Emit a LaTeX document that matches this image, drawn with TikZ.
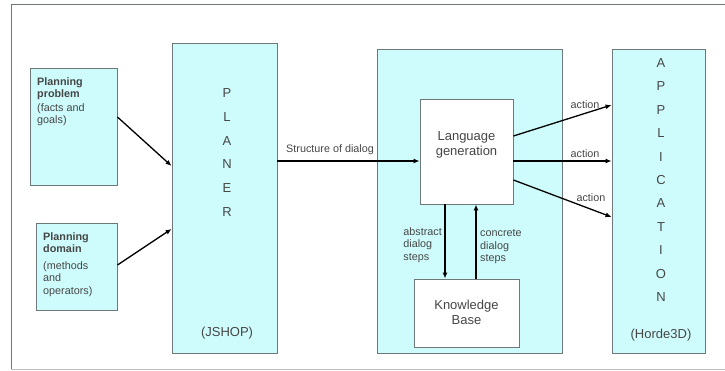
\documentclass[tikz,border=0pt]{standalone}
\usepackage{fontspec}
\setmainfont{Liberation Sans}
\usetikzlibrary{arrows.meta}
\definecolor{boxcyan}{RGB}{206,252,252}
\definecolor{boxline}{RGB}{110,120,120}
\definecolor{txtgray}{RGB}{70,70,70}

\begin{document}
\begin{tikzpicture}[x=1pt,y=-1pt,
		box/.style={draw=boxline,line width=0.9pt,fill=boxcyan,inner sep=0pt},
		wbox/.style={box,fill=white},
		arr/.style={-{Latex[length=6pt,width=5pt]},line width=1.3pt,black},
		small/.style={font=\fontsize{10.8}{12.5}\selectfont,text=txtgray,inner sep=1pt},
		big/.style={font=\fontsize{13}{15}\selectfont,text=txtgray,inner sep=0pt}]
		\useasboundingbox (0,0) rectangle (725,371);
		% frame
		\draw[boxline,line width=1pt] (725,5) -- (11,5) -- (11,369);
		\draw[gray!50,line width=1pt] (11,369) -- (725,369);

		% boxes
		\node[box,minimum width=87,minimum height=117] (problem) at (73.5,126.5) {};
		\node[box,minimum width=81,minimum height=87] (domain) at (76.5,266.5) {};
		\node[box,minimum width=105,minimum height=310] (planer) at (224.5,198) {};
		\node[box,minimum width=185,minimum height=304] (middle) at (469.5,201) {};
		\node[wbox,minimum width=93,minimum height=105] (lang) at (466.5,151.5) {};
		\node[wbox,minimum width=105,minimum height=68] (kb) at (466.5,313) {};
		\node[box,minimum width=93,minimum height=304] (app) at (658.5,201) {};

		% texts
		\node[small,anchor=north west,align=left] (problemtext) at (36,76)
			{\textbf{Planning}\\\textbf{problem}\\[1pt](facts and\\goals)};
		\node[small,anchor=north west,align=left] (domaintext) at (42,231)
			{\textbf{Planning}\\\textbf{domain}\\[4pt](methods\\and\\operators)};
		\foreach \ch [count=\i] in {P,L,A,N,E,R}
			\node[big] (planer\i) at (227,{93+23.8*(\i-1)}) {\ch};
		\node[big] (jshop) at (227,333) {(JSHOP)};
		\node[big,align=center] (langtext) at (466.5,145) {Language\\generation};
		\node[big,align=center] (kbtext) at (466.5,312) {Knowledge\\Base};
		\foreach \ch [count=\i] in {A,P,P,L,I,C,A,T,I,O,N}
			\node[big] (app\i) at (661,{63+23.4*(\i-1)}) {\ch};
		\node[big] (horde) at (661,335) {(Horde3D)};

		% connectors
		\draw[arr] (problem.east |- 0,117) -- (planer.west |- 0,166);
		\draw[arr] (domain.east |- 0,265) -- (planer.west |- 0,229);
		\draw[arr] (planer.east |- 0,161) -- node[small,above=5pt,pos=0.37] {Structure of dialog} (lang.west |- 0,161);
		\draw[arr] (lang.south -| 445,0) -- (kb.north -| 445,0);
		\draw[arr] (kb.north -| 476,0) -- (lang.south -| 476,0);
		\node[small,anchor=east,align=left] (abstract) at (443,245) {abstract\\dialog\\steps};
		\node[small,anchor=west,align=left] (concrete) at (479,247) {concrete\\dialog\\steps};
		\draw[arr] (lang.east |- 0,136) -- node[small,above=3pt,pos=0.73] {action} (app.west |- 0,105);
		\draw[arr] (lang.east |- 0,161) -- node[small,above=2pt,pos=0.73] {action} (app.west |- 0,161);
		\draw[arr] (lang.east |- 0,180) -- node[small,above=6pt,pos=0.79] {action} (app.west |- 0,217);
	\end{tikzpicture}
\end{document}
